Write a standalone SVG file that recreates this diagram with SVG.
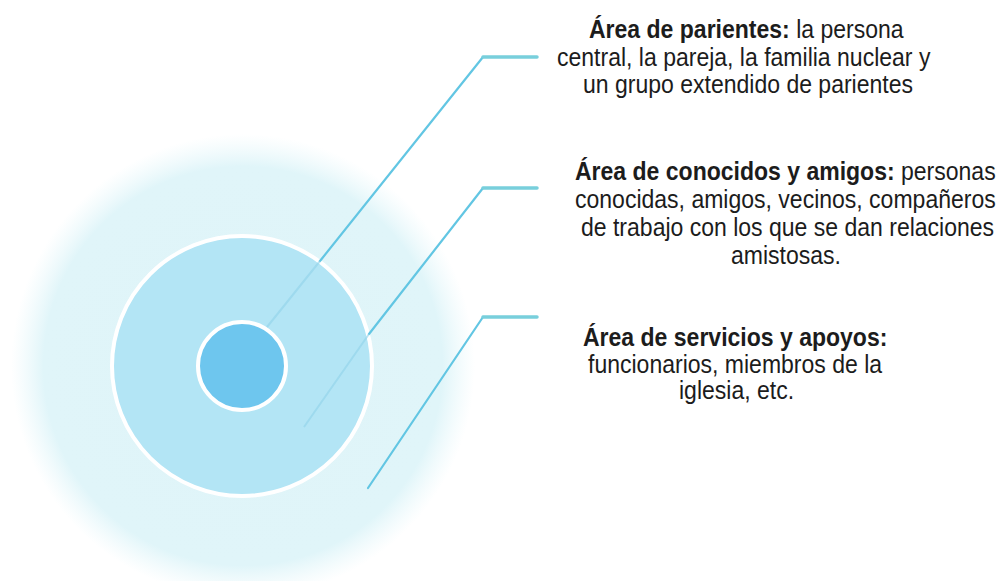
<svg xmlns="http://www.w3.org/2000/svg" width="1003" height="581" viewBox="0 0 1003 581">
<defs>
<radialGradient id="outerGrad" cx="243" cy="366" r="232" gradientUnits="userSpaceOnUse">
<stop offset="0" stop-color="#dff4f8"/>
<stop offset="0.86" stop-color="#e0f5f9"/>
<stop offset="1" stop-color="#e8f8fb" stop-opacity="0"/>
</radialGradient>
</defs>
<style>
.diag{fill:none;stroke:#62c6e3;stroke-width:2.2;stroke-linecap:round}
.hor{fill:none;stroke:#78cfdc;stroke-width:3.5;stroke-linecap:round}
.faint{fill:none;stroke:#8fd2ea;stroke-width:2;opacity:0.6}
.txt{font-family:"Liberation Sans",Arial,sans-serif;font-size:26px;fill:#1c1c1c}
.b{font-weight:bold}
</style>
<rect width="1003" height="581" fill="#ffffff"/>
<g id="zona-servicios">
<circle cx="243" cy="366" r="232" fill="url(#outerGrad)"/>
</g>
<g id="zona-conocidos">
<circle cx="242" cy="366" r="130" fill="#b3e5f5" stroke="#ffffff" stroke-width="4"/>
</g>
<g id="zona-parientes">
<circle cx="242" cy="366" r="44" fill="#6ec6ee" stroke="#ffffff" stroke-width="4"/>
</g>
<g id="connectors">
<line class="diag" x1="320" y1="261" x2="483" y2="57"/>
<line class="hor" x1="483" y1="57" x2="537" y2="57"/>
<line class="faint" x1="320" y1="261" x2="267" y2="327"/>
<line class="diag" x1="369" y1="334" x2="483" y2="188"/>
<line class="hor" x1="483" y1="188" x2="537" y2="188"/>
<line class="faint" x1="369" y1="334" x2="304" y2="427"/>
<line class="diag" x1="368" y1="488" x2="483" y2="317"/>
<line class="hor" x1="483" y1="317" x2="537" y2="317"/>
</g>
<g id="label-parientes">
<text class="txt" transform="translate(589,38) scale(0.885,1)"><tspan class="b">Área de parientes:</tspan> la persona</text>
<text class="txt" transform="translate(557,66) scale(0.885,1)">central,  la pareja, la familia nuclear y</text>
<text class="txt" transform="translate(583,93) scale(0.885,1)">un grupo extendido de parientes</text>
</g>
<g id="label-conocidos">
<text class="txt" transform="translate(575,180) scale(0.885,1)"><tspan class="b">Área de conocidos y amigos:</tspan> personas</text>
<text class="txt" transform="translate(575,208) scale(0.885,1)">conocidas, amigos, vecinos, compañeros</text>
<text class="txt" transform="translate(581,236) scale(0.885,1)">de trabajo con los que se dan relaciones</text>
<text class="txt" transform="translate(731,264) scale(0.885,1)">amistosas.</text>
</g>
<g id="label-servicios">
<text class="txt b" transform="translate(583,346) scale(0.885,1)">Área de servicios y apoyos:</text>
<text class="txt" transform="translate(588,373) scale(0.885,1)">funcionarios, miembros de la</text>
<text class="txt" transform="translate(679,399) scale(0.885,1)">iglesia, etc.</text>
</g>
</svg>
